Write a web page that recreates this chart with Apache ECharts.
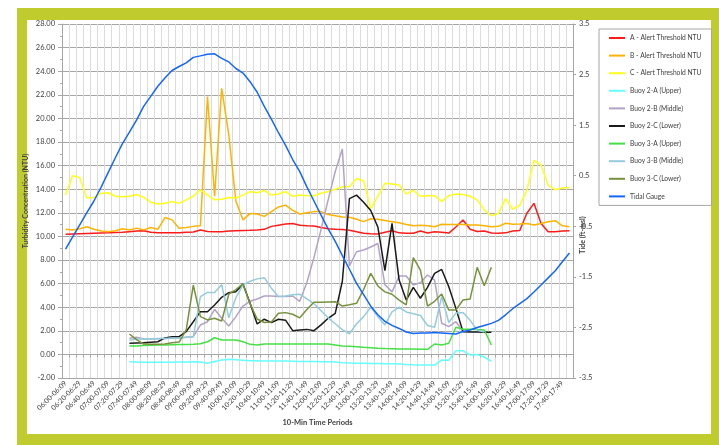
<!DOCTYPE html>
<html>
<head>
<meta charset="utf-8">
<script src="https://cdn.jsdelivr.net/npm/echarts@6/dist/echarts.min.js"></script>
<style>
  html, body { margin: 0; padding: 0; background: #fff; }
  #chart { width: 719px; height: 445px; }
</style>
</head>
<body>
<div id="chart"></div>
<script>
// 10 分钟时段 06:00 - 17:59
const periods = [];
for (let h = 6; h < 18; h++) {
  for (let m = 0; m < 60; m += 10) {
    const hh = String(h).padStart(2, '0');
    const a = String(m).padStart(2, '0');
    const b = String(m + 9).padStart(2, '0');
    periods.push(hh + ':' + a + '-' + hh + ':' + b);
  }
}

const thresholdA = [10.18, 10.2, 10.22, 10.24, 10.26, 10.28, 10.3, 10.33, 10.35, 10.4, 10.45, 10.48,
  10.35, 10.3, 10.3, 10.3, 10.3, 10.35, 10.38, 10.55, 10.42, 10.4, 10.4, 10.45,
  10.48, 10.5, 10.52, 10.55, 10.6, 10.85, 10.95, 11.05, 11.1, 10.95, 10.9, 10.88,
  10.75, 10.65, 10.6, 10.58, 10.52, 10.4, 10.26, 10.22, 10.2, 10.35, 10.48, 10.3,
  10.26, 10.26, 10.45, 10.28, 10.4, 10.35, 10.28, 10.8, 11.39, 10.6, 10.42, 10.45,
  10.28, 10.26, 10.3, 10.45, 10.5, 11.96, 12.8, 11.1, 10.4, 10.4, 10.45, 10.48]

const thresholdB = [10.6, 10.55, 10.65, 10.82, 10.6, 10.45, 10.4, 10.48, 10.65, 10.55, 10.7, 10.55,
  10.75, 10.6, 11.6, 11.4, 10.7, 10.75, 10.85, 10.9, 21.85, 13.4, 22.55, 18.6,
  13.0, 11.4, 11.95, 11.9, 11.7, 12.1, 12.5, 12.65, 12.2, 11.9, 12.0, 12.1,
  12.1, 11.85, 11.75, 11.65, 11.62, 11.45, 11.25, 11.5, 11.45, 11.35, 11.25, 11.15,
  11.0, 10.9, 10.95, 10.9, 10.82, 11.03, 11.0, 11.0, 11.0, 10.97, 10.97, 10.9,
  10.82, 10.85, 11.11, 11.03, 11.05, 11.1, 10.97, 11.1, 11.25, 11.33, 10.9, 10.82]

const thresholdC = [13.5, 15.15, 15.0, 13.25, 13.3, 13.65, 13.7, 13.4, 13.35, 13.4, 13.55, 13.3,
  12.9, 12.75, 12.8, 12.95, 12.8, 13.1, 13.4, 13.95, 13.5, 13.1, 13.15, 13.3,
  13.25, 13.5, 13.8, 13.7, 13.9, 13.5, 13.6, 13.8, 13.4, 13.5, 13.45, 13.45,
  13.65, 13.8, 14.0, 14.2, 14.2, 14.9, 14.7, 12.35, 13.4, 14.5, 14.45, 14.35,
  13.6, 13.9, 13.4, 13.45, 13.45, 12.95, 13.45, 13.6, 13.55, 13.4, 13.1, 12.25,
  11.75, 11.95, 13.2, 12.3, 12.65, 13.9, 16.45, 16.05, 14.35, 13.95, 14.1, 14.15]

const n9 = [null, null, null, null, null, null, null, null, null]
const n11 = [null, null, null, null, null, null, null, null, null, null, null]

const buoy2A = n9.concat([-0.62, -0.64, -0.67, -0.67, -0.66, -0.67, -0.66, -0.65, -0.64, -0.62, -0.65,
  -0.75, -0.6, -0.47, -0.42, -0.45, -0.5, -0.53, -0.54, -0.55, -0.55, -0.55, -0.56,
  -0.58, -0.6, -0.6, -0.61, -0.62, -0.62, -0.65, -0.7, -0.72, -0.74, -0.75, -0.77,
  -0.78, -0.8, -0.8, -0.81, -0.85, -0.88, -0.9, -0.9, -0.9, -0.47, -0.5, 0.3,
  0.3, -0.05, -0.02, -0.22, -0.59]).concat(n11)

const buoy2B = n9.concat([1.36, 1.45, 1.3, 1.3, 1.32, 1.35, 1.36, 1.4, 1.45, 1.5, 2.49,
  2.77, 3.82, 3.06, 2.41, 3.2, 4.1, 4.5, 4.7, 4.95, 4.95, 4.9, 4.9,
  4.95, 4.5, 6.1, 8.2, 10.6, 13.1, 15.5, 17.4, 7.5, 8.7, 8.85, 9.1,
  9.4, 5.9, 5.3, 6.64, 6.64, 5.88, 6.08, 6.73, 6.3, 2.64, 2.35, 2.77,
  1.93]).concat(n11, [null, null, null, null])

const buoy2C = n9.concat([0.94, 0.97, 0.99, 1.03, 1.07, 1.4, 1.5, 1.5, 1.93, 2.77, 3.62,
  3.62, 4.19, 4.84, 5.23, 5.3, 5.97, 4.33, 2.58, 2.98, 2.69, 2.98, 2.9,
  2.01, 2.07, 2.12, 2.01, 2.5, 3.06, 3.48, 6.2, 13.2, 13.5, 12.9, 12.2,
  10.8, 7.1, 11.1, 6.3, 4.6, 5.68, 4.76, 5.68, 6.87, 7.2, 5.74, 3.9,
  1.93, 1.9, 1.9, 1.88, 1.88]).concat(n11)

const buoy3A = n9.concat([0.71, 0.72, 0.75, 0.78, 0.8, 0.8, 0.82, 0.83, 0.84, 0.85, 0.9,
  1.07, 1.41, 1.22, 1.22, 1.22, 1.07, 0.85, 0.8, 0.88, 0.88, 0.88, 0.88,
  0.88, 0.88, 0.88, 0.88, 0.88, 0.88, 0.8, 0.72, 0.7, 0.65, 0.6, 0.57,
  0.53, 0.5, 0.48, 0.46, 0.46, 0.45, 0.43, 0.43, 0.88, 0.8, 0.94, 2.3,
  2.13, 2.13, 2.1, 2.07, 0.8]).concat(n11)

const buoy3B = n9.concat([1.2, 1.3, 1.3, 1.3, 1.35, 1.35, 1.4, 1.4, 1.45, 1.5, 4.9,
  5.25, 5.25, 5.9, 3.1, 4.8, 5.9, 6.2, 6.4, 6.5, 5.6, 4.9, 4.95,
  5.05, 5.1, 4.7, 4.3, 3.7, 3.1, 2.6, 2.1, 1.75, 2.6, 3.2, 4.0,
  3.2, 2.5, 3.6, 4.0, 3.6, 3.45, 3.3, 2.45, 2.3, 4.9, 2.7, 3.5,
  3.55, 2.9, 2.05, 1.9]).concat(n11, [null])

const buoy3C = n9.concat([1.73, 1.25, 0.88, 0.85, 0.85, 0.88, 0.99, 1.05, 2.07, 5.88, 3.2,
  2.92, 3.06, 2.83, 5.1, 5.5, 5.97, 4.3, 3.0, 2.7, 2.75, 3.48, 3.54,
  3.4, 3.1, 3.8, 4.42, 4.42, 4.45, 4.47, 4.1, 4.2, 4.33, 5.5, 6.87,
  5.8, 5.3, 5.1, 4.6, 4.19, 8.2, 7.15, 4.1, 4.5, 5.12, 3.76, 3.76,
  4.61, 4.69, 7.38, 5.82, 7.38]).concat(n11)

const tide = [-0.95, -0.71, -0.47, -0.23, 0.0, 0.27, 0.56, 0.85, 1.13, 1.36, 1.6, 1.87,
  2.07, 2.27, 2.43, 2.58, 2.66, 2.73, 2.84, 2.87, 2.9, 2.91, 2.82, 2.75,
  2.62, 2.53, 2.36, 2.15, 1.87, 1.62, 1.35, 1.1, 0.82, 0.58, 0.28, 0.0,
  -0.28, -0.55, -0.8, -1.08, -1.35, -1.63, -1.85, -2.08, -2.25, -2.38, -2.46, -2.52,
  -2.59, -2.62, -2.61, -2.61, -2.6, -2.61, -2.62, -2.63, -2.58, -2.55, -2.5, -2.46,
  -2.42, -2.36, -2.25, -2.13, -2.03, -1.93, -1.8, -1.66, -1.52, -1.38, -1.2, -1.03]

const font = 'Lato'
const textColor = '#404040'

const seriesDefs = [
  { name: 'A - Alert Threshold NTU', data: thresholdA, color: '#FF1A1A' },
  { name: 'B - Alert Threshold NTU', data: thresholdB, color: '#FFB300' },
  { name: 'C - Alert Threshold NTU', data: thresholdC, color: '#FFFF1A' },
  { name: 'Buoy 2-A (Upper)', data: buoy2A, color: '#66FFFF' },
  { name: 'Buoy 2-B (Middle)', data: buoy2B, color: '#B3A2C7' },
  { name: 'Buoy 2-C (Lower)', data: buoy2C, color: '#1A1A1A' },
  { name: 'Buoy 3-A (Upper)', data: buoy3A, color: '#44E044' },
  { name: 'Buoy 3-B (Middle)', data: buoy3B, color: '#93CDDD' },
  { name: 'Buoy 3-C (Lower)', data: buoy3C, color: '#76923C' },
  { name: 'Tidal Gauge', data: tide, color: '#1466FF', yAxisIndex: 1 }
]

const chart = echarts.init(document.getElementById('chart'))

chart.setOption({
  animation: false,
  textStyle: { fontFamily: font },
  graphic: [
    { type: 'rect', z: -10, silent: true, shape: { x: 17, y: 8, width: 702, height: 437 }, style: { fill: '#C0CC2E' } },
    { type: 'rect', z: -9, silent: true, shape: { x: 27, y: 20, width: 684, height: 414 }, style: { fill: '#fff' } }
  ],
  grid: { left: 62, right: 146, top: 24, bottom: 67 },
  legend: {
    orient: 'vertical',
    left: 599,
    top: 29,
    icon: 'rect',
    itemWidth: 16,
    itemHeight: 2,
    itemGap: 7.6,
    padding: [4, 10, 4, 10],
    borderColor: '#A6A6A6',
    borderWidth: 1,
    backgroundColor: '#fff',
    textStyle: { fontSize: 6.7, color: textColor, fontFamily: font, lineHeight: 10 },
    data: seriesDefs.map(s => s.name)
  },
  xAxis: {
    type: 'category',
    data: periods,
    boundaryGap: true,
    name: '10-Min Time Periods',
    nameLocation: 'middle',
    nameGap: 41,
    nameMoveOverlap: false,
    nameTextStyle: { fontSize: 7.5, fontWeight: 'bold', color: textColor },
    axisLine: { lineStyle: { color: '#A6A6A6' } },
    axisTick: { show: true, interval: 0, length: 3, lineStyle: { color: '#A6A6A6' } },
    axisLabel: { interval: 1, rotate: 45, fontSize: 7, color: textColor, margin: 4 },
    splitLine: { show: true, interval: 0, lineStyle: { color: '#DCDCDC', width: 1 } }
  },
  yAxis: [
    {
      type: 'value',
      min: -2,
      max: 28,
      interval: 2,
      name: 'Turbidity Concentration (NTU)',
      nameLocation: 'middle',
      nameGap: 33,
      nameMoveOverlap: false,
      nameTextStyle: { fontSize: 7, fontWeight: 'bold', color: textColor },
      axisLine: { show: true, lineStyle: { color: '#A6A6A6' } },
      axisTick: { show: true, length: 4, lineStyle: { color: '#A6A6A6' } },
      minorTick: { show: true, splitNumber: 2, length: 2, lineStyle: { color: '#A6A6A6' } },
      axisLabel: { fontSize: 7.5, color: textColor, margin: 7, formatter: v => v.toFixed(2) },
      splitLine: { lineStyle: { color: '#A6A6A6', width: 1 } }
    },
    {
      type: 'value',
      min: -3.5,
      max: 3.5,
      interval: 1,
      position: 'right',
      name: 'Tide (ft-msl)',
      nameLocation: 'middle',
      nameGap: 6,
      nameRotate: 90,
      nameMoveOverlap: false,
      nameTextStyle: { fontSize: 7, fontWeight: 'bold', color: textColor, padding: [0, 68, 0, 0] },
      axisLine: { show: true, lineStyle: { color: '#A6A6A6' } },
      axisTick: { show: true, length: 3, lineStyle: { color: '#A6A6A6' } },
      axisLabel: { fontSize: 7.5, color: textColor, margin: 6, formatter: v => String(Math.round(v * 10) / 10) },
      splitLine: { show: false }
    }
  ],
  series: seriesDefs.map(s => ({
    name: s.name,
    type: 'line',
    data: s.data,
    yAxisIndex: s.yAxisIndex || 0,
    color: s.color,
    symbol: 'none',
    showSymbol: false,
    connectNulls: false,
    lineStyle: { width: 1.5, color: s.color }
  }))
})
</script>
</body>
</html>
